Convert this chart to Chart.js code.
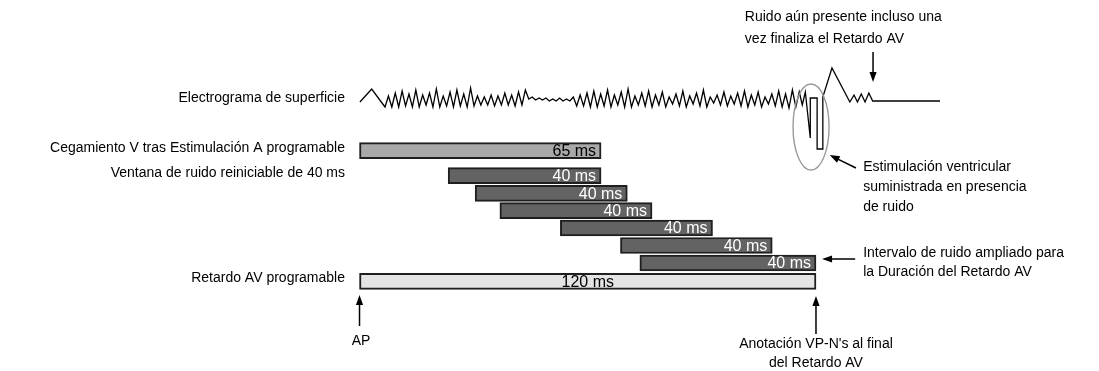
<!DOCTYPE html>
<html>
<head>
<meta charset="utf-8">
<script src="https://cdn.jsdelivr.net/npm/chart.js@4/dist/chart.umd.min.js"></script>
<style>
  html, body { margin: 0; padding: 0; background: #ffffff; }
  #wrap { width: 1099px; height: 371px; position: relative; }
</style>
</head>
<body>
<div id="wrap"><canvas id="c"></canvas></div>
<script>
// ---------------- DATA ----------------
const rowLabels = [
  'Electrograma de superficie',
  'Cegamiento V tras Estimulación A programable',
  'Ventana de ruido reiniciable de 40 ms',
  '', '', '', '', '',
  'Retardo AV programable'
];
// times in ms (AP = 0)
const blanking = [0, 63.5];
const blankingLabel = '65 ms';
const noiseStart = [23.3, 30.4, 36.9, 52.8, 68.6, 73.7];
const noiseEnd   = [63.5, 70.4, 76.9, 92.8, 108.5, 120.0];
const noiseLabels = ['40 ms', '40 ms', '40 ms', '40 ms', '40 ms', '40 ms'];
const avDelay = [0, 120];
const avDelayLabel = '120 ms';

// surface electrogram: time (ms) and amplitude (arbitrary units)
const ecgTime = [
  0.1, 3.2, 6.7,
  7.6, 8.5, 9.4, 10.3, 11.2, 12.1, 13.0, 13.9, 14.8, 15.7, 16.6, 17.5, 18.4, 19.3, 20.2, 21.1, 22.0, 22.9,
  23.8, 24.7, 25.6, 26.5, 27.4, 28.3, 29.2, 30.1, 31.0, 31.9, 32.8, 33.7, 34.6, 35.5, 36.4, 37.3, 38.2, 39.1,
  40.0, 40.9, 41.8, 42.7, 43.6,
  44.5, 45.4, 46.3, 47.2, 48.1, 49.0, 49.9, 50.8, 51.7, 52.6, 53.5, 54.4, 55.3, 56.2,
  57.1, 58.0, 58.9, 59.8, 60.7, 61.6, 62.5, 63.4, 64.3, 65.2, 66.1, 67.0, 67.9, 68.8, 69.7, 70.6, 71.5, 72.4,
  73.3, 74.2, 75.1, 76.0, 76.9, 77.8, 78.7, 79.6, 80.5, 81.4, 82.3, 83.2, 84.1, 85.0, 85.9, 86.8, 87.7, 88.6,
  89.5, 90.4, 91.3, 92.2, 93.1, 94.0, 94.9, 95.8, 96.7, 97.6, 98.5, 99.4, 100.3, 101.2, 102.1, 103.0, 103.9,
  104.8, 105.7, 106.6, 107.5, 108.4, 109.3, 110.2, 111.1, 112.0, 112.9, 113.8, 114.7, 115.6, 116.4, 117.2,
  118.5, 118.5, 120.3, 120.3, 121.8, 121.8, 124.2, 128.9,
  130.0, 130.9, 131.9, 132.9, 133.9, 134.9, 152.6
];
const ecgAmp = [
  -1, 12, -6,
  5, -6, 8, -6, 10, -5, 7, -6, 11, -6, 6, -4, 8, -6, 12, -6, 5, -5,
  9, -6, 11, -5, 7, -6, 13, -5, 5, -4, 4, -4, 6, -5, 5, -4, 8, -4,
  6, -5, 9, -4, 11,
  2, 4, 1, 3, 1, 3, 0, 2, 0, 3, 0, 2, 0, 4,
  -5, 6, -5, 8, -6, 10, -6, 7, -5, 11, -6, 6, -4, 9, -6, 12, -6, 5,
  -4, 8, -5, 10, -6, 6, -4, 9, -6, 4, -3, 7, -5, 10, -6, 5, -3, 8,
  -5, 11, -6, 4, -2, 6, -4, 9, -5, 5, -3, 8, -5, 10, -6, 6, -4,
  9, -6, 4, -3, 7, -5, 10, -6, 7, -7, 11, -6, 9, -4, 9,
  -37, 3, 3, -48, -48, 4, 33, -1,
  6, -1, 7, -1, 8, 0, 0
];

// ---------------- LAYOUT / STYLE ----------------
const H = 371;
const rowY = [101, 150.7, 175.7, 193.3, 210.7, 228, 245.5, 263, 281.3];
const FONT = '"Liberation Sans", Arial, Helvetica, sans-serif';

Chart.defaults.font.family = FONT;

const barLabelPlugin = {
  id: 'barLabels',
  afterDatasetsDraw(chart) {
    const ctx = chart.ctx;
    chart.data.datasets.forEach((ds, di) => {
      if (!ds.barLabels) return;
      const meta = chart.getDatasetMeta(di);
      meta.data.forEach((el, i) => {
        const left = Math.min(el.x, el.base), right = Math.max(el.x, el.base);
        ctx.save();
        ctx.font = '16px ' + FONT;
        ctx.fillStyle = ds.labelColor;
        ctx.textBaseline = 'middle';
        if (ds.labelAlign === 'center') {
          ctx.textAlign = 'center';
          ctx.fillText(ds.barLabels[i], (left + right) / 2, el.y + 1);
        } else {
          ctx.textAlign = 'right';
          ctx.fillText(ds.barLabels[i], right - 5, el.y + 1);
        }
        ctx.restore();
      });
    });
  }
};

function arrow(ctx, x1, y1, x2, y2) {
  const a = Math.atan2(y2 - y1, x2 - x1);
  const L = 10, W = 3.6;
  const c = Math.cos(a), s = Math.sin(a);
  ctx.beginPath();
  ctx.moveTo(x1, y1);
  ctx.lineTo(x2 - (L - 2) * c, y2 - (L - 2) * s);
  ctx.stroke();
  ctx.beginPath();
  ctx.moveTo(x2, y2);
  ctx.lineTo(x2 - L * c + W * s, y2 - L * s - W * c);
  ctx.lineTo(x2 - L * c - W * s, y2 - L * s + W * c);
  ctx.closePath();
  ctx.fill();
}

const annotationPlugin = {
  id: 'notes',
  afterDraw(chart) {
    const ctx = chart.ctx;
    const xs = chart.scales.x, ys = chart.scales.y;
    const px = t => xs.getPixelForValue(t);
    const py = v => ys.getPixelForValue(v);
    ctx.save();
    ctx.strokeStyle = '#000';
    ctx.fillStyle = '#000';
    ctx.lineWidth = 1.5;
    // ellipse around pacing artefact
    ctx.save();
    ctx.strokeStyle = '#9a9a9a';
    ctx.lineWidth = 1.4;
    ctx.beginPath();
    ctx.ellipse(px(118.7), py(127), 18, 43, 0, 0, Math.PI * 2);
    ctx.stroke();
    ctx.restore();
    // arrows
    arrow(ctx, px(135), py(52), px(135), py(82));
    arrow(ctx, px(130.5), py(168), px(123.6), py(155));
    arrow(ctx, px(130.3), py(259), px(121.6), py(259));
    arrow(ctx, px(0), py(326), px(0), py(295));
    arrow(ctx, px(120), py(334), px(120), py(296));
    // texts
    ctx.font = '14px ' + FONT;
    ctx.textBaseline = 'middle';
    ctx.textAlign = 'left';
    ctx.fillText('Ruido aún presente incluso una', px(101.3), py(17));
    ctx.fillText('vez finaliza el Retardo AV', px(101.3), py(39));
    ctx.fillText('Estimulación ventricular', px(132.4), py(167));
    ctx.fillText('suministrada en presencia', px(132.4), py(187));
    ctx.fillText('de ruido', px(132.4), py(207));
    ctx.fillText('Intervalo de ruido ampliado para', px(132.4), py(253));
    ctx.fillText('la Duración del Retardo AV', px(132.4), py(272));
    ctx.textAlign = 'center';
    ctx.fillText('AP', px(0.4), py(341));
    ctx.fillText("Anotación VP-N's al final", px(120), py(344));
    ctx.fillText('del Retardo AV', px(120), py(363));
    ctx.restore();
  }
};

const labelRows = rowLabels.map((l, i) => l ? i : -1).filter(i => i >= 0);

new Chart(document.getElementById('c'), {
  type: 'bar',
  data: {
    datasets: [
      {
        label: 'Cegamiento',
        data: [{ x: blanking, y: rowY[1] }],
        backgroundColor: '#a9a9a9',
        barLabels: [blankingLabel], labelColor: '#000', labelAlign: 'right'
      },
      {
        label: 'Ventana de ruido',
        data: noiseStart.map((s, i) => ({ x: [s, noiseEnd[i]], y: rowY[2 + i] })),
        backgroundColor: '#636363',
        barLabels: noiseLabels, labelColor: '#ffffff', labelAlign: 'right'
      },
      {
        label: 'Retardo AV',
        data: [{ x: avDelay, y: rowY[8] }],
        backgroundColor: '#e4e4e4',
        barLabels: [avDelayLabel], labelColor: '#000', labelAlign: 'center'
      },
      {
        type: 'line',
        label: 'Electrograma',
        indexAxis: 'x',
        xAxisID: 'x',
        yAxisID: 'yEcg',
        data: ecgTime.map((t, i) => ({ x: t, y: ecgAmp[i] })),
        borderColor: '#000',
        borderWidth: 1.3,
        pointRadius: 0,
        tension: 0,
        fill: false
      }
    ]
  },
  options: {
    indexAxis: 'y',
    responsive: true,
    maintainAspectRatio: false,
    animation: false,
    layout: { padding: 0 },
    datasets: {
      bar: {
        grouped: false,
        barThickness: 16,
        borderColor: '#1f1f1f',
        borderWidth: 2,
        borderSkipped: false
      }
    },
    plugins: { legend: { display: false }, tooltip: { enabled: false } },
    scales: {
      x: {
        type: 'linear',
        display: false,
        offset: false,
        min: -3.29,
        max: 194.4
      },
      y: {
        type: 'linear',
        position: 'left',
        reverse: true,
        offset: false,
        min: 0,
        max: H,
        grid: { display: false, drawTicks: false, offset: false },
        border: { display: false },
        afterBuildTicks: s => { s.ticks = labelRows.map(i => ({ value: rowY[i] })); },
        afterFit: s => { s.width = 347; s.paddingTop = 0; s.paddingBottom = 0; },
        ticks: {
          padding: 2,
          labelOffset: -3,
          color: '#000',
          font: { size: 14, family: FONT },
          callback: v => { const i = rowY.indexOf(v); return i >= 0 ? rowLabels[i] : ''; }
        }
      },
      yEcg: {
        type: 'linear',
        axis: 'y',
        display: false,
        offset: false,
        min: rowY[0] - H,
        max: rowY[0]
      }
    }
  },
  plugins: [barLabelPlugin, annotationPlugin]
});
</script>
</body>
</html>
